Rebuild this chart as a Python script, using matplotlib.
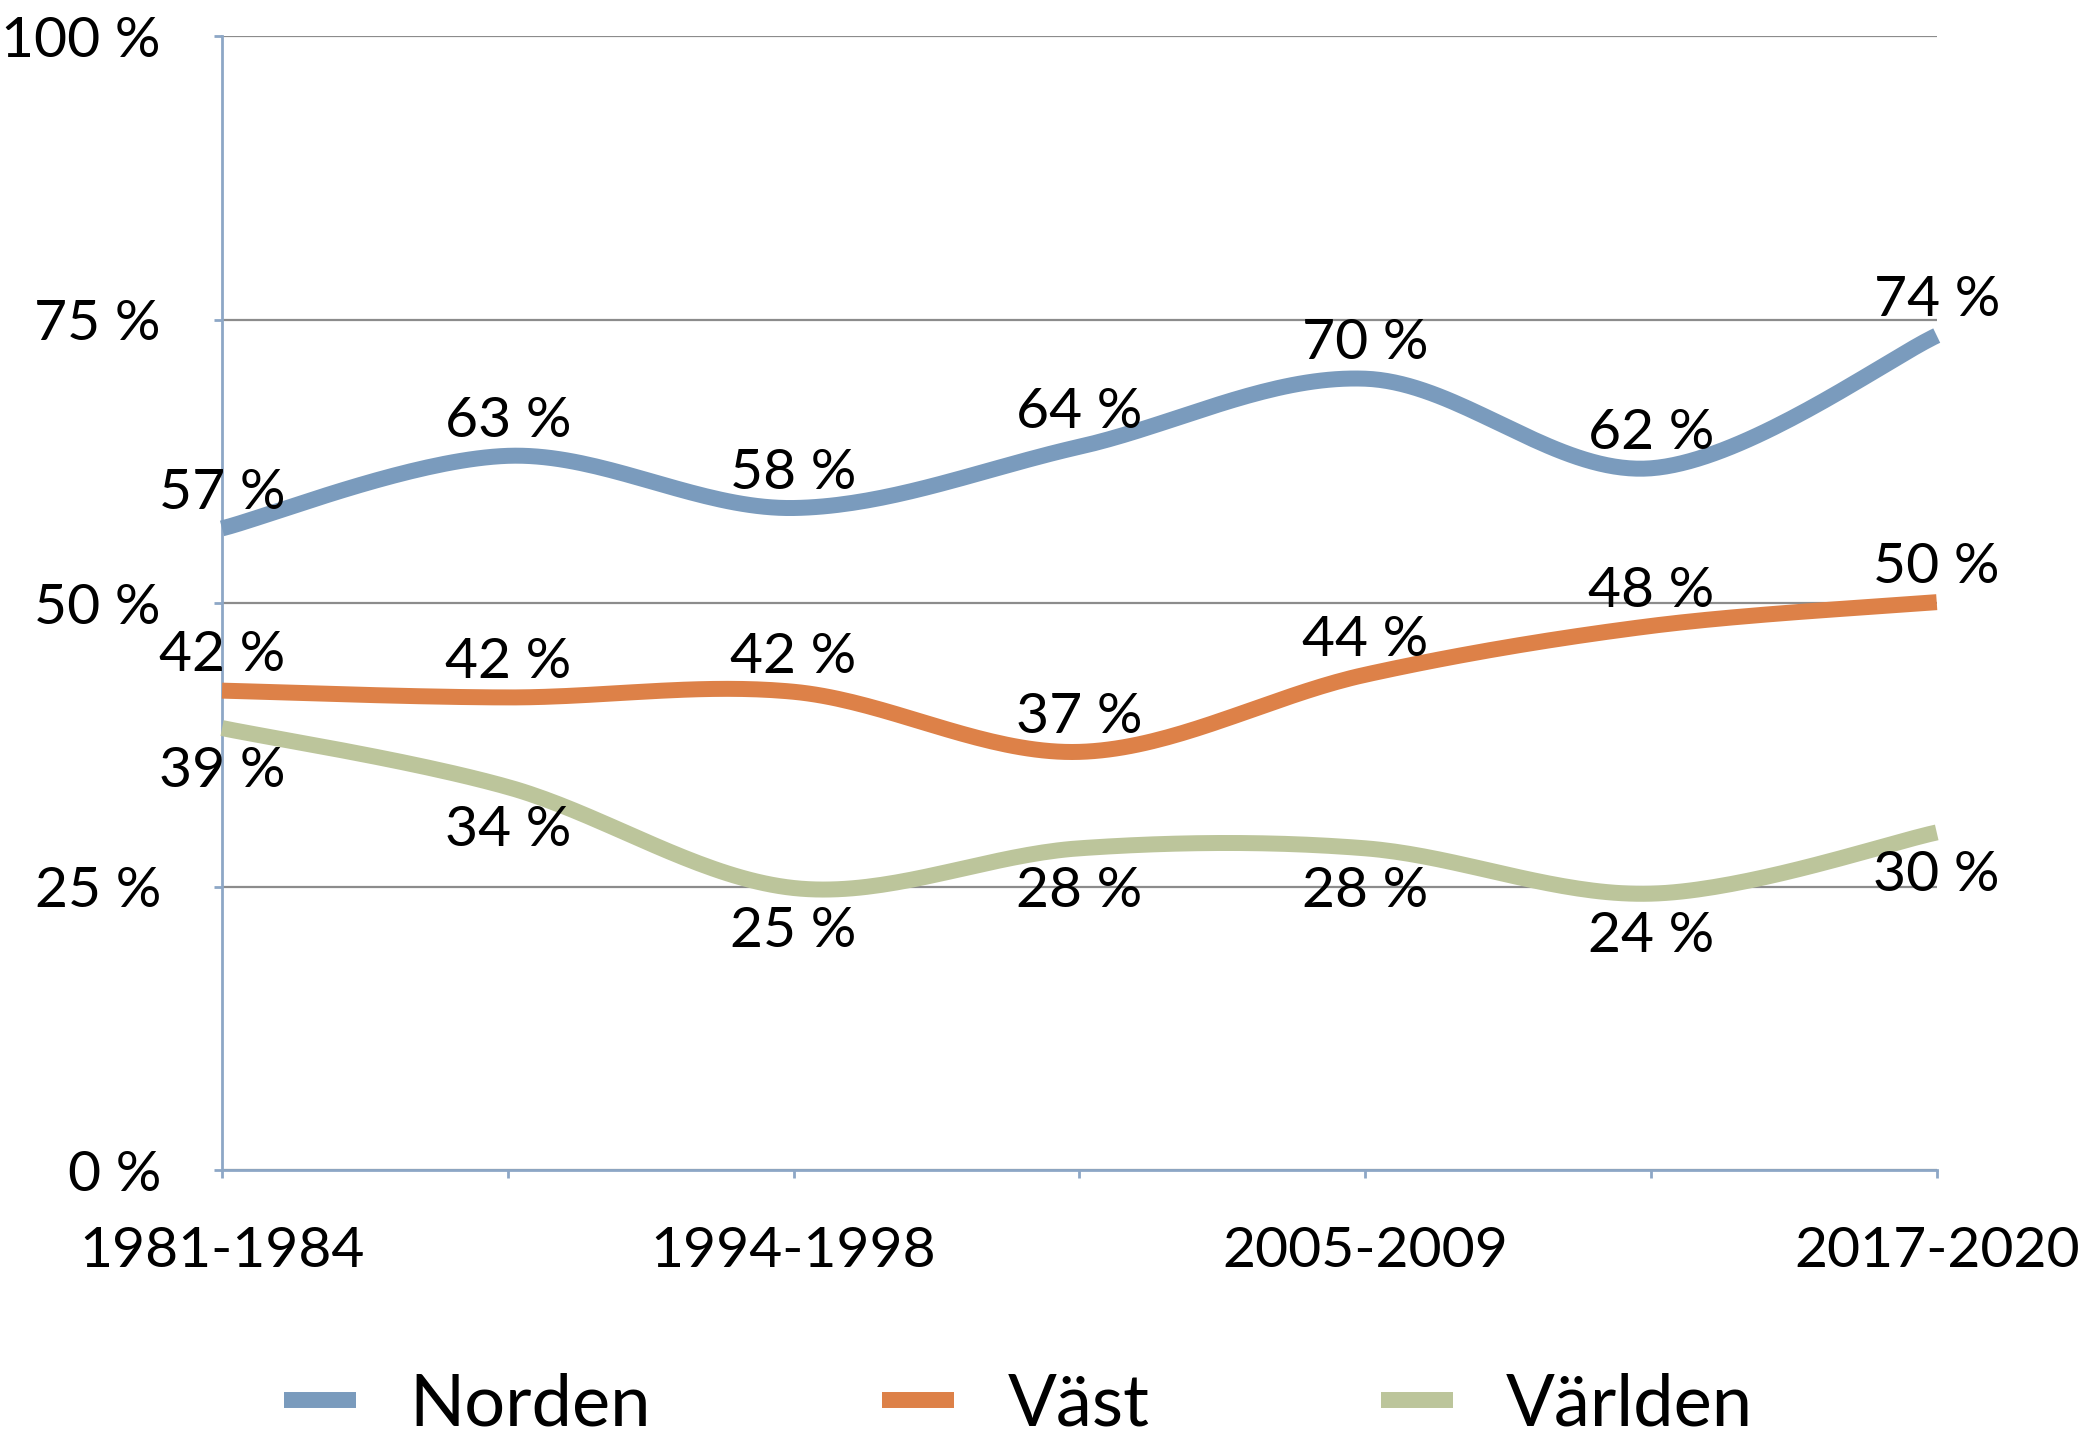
import matplotlib.pyplot as plt
import numpy as np

periods = ["1981-1984", "1989-1993", "1994-1998", "1999-2004",
           "2005-2009", "2010-2014", "2017-2020"]
shown_labels = ["1981-1984", "", "1994-1998", "", "2005-2009", "", "2017-2020"]

norden = [56.6, 63.0, 58.4, 63.8, 69.8, 61.9, 73.6]
vast = [42.3, 41.7, 42.2, 36.9, 43.7, 48.0, 50.1]
varlden = [39.0, 33.8, 24.9, 28.4, 28.4, 24.4, 29.8]

series_names = ["Norden", "Väst", "Världen"]
series_colors = ["#7A9BBD", "#DD8148", "#BCC59B"]

plt.rcParams['font.family'] = ['Lato', 'DejaVu Sans']


def smooth(xs, ys, n=40):
    """Excel-like smoothed line: cubic bezier through points, Catmull-Rom tangents."""
    pts = np.column_stack([xs, ys]).astype(float)
    p = np.vstack([pts[0], pts, pts[-1]])
    out = []
    t = np.linspace(0, 1, n)[:, None]
    for i in range(1, len(p) - 2):
        p0, p1, p2, p3 = p[i - 1], p[i], p[i + 1], p[i + 2]
        c1 = p1 + (p2 - p0) / 6.0
        c2 = p2 - (p3 - p1) / 6.0
        seg = ((1 - t) ** 3) * p1 + 3 * ((1 - t) ** 2) * t * c1 \
            + 3 * (1 - t) * t ** 2 * c2 + t ** 3 * p2
        out.append(seg if i == 1 else seg[1:])
    out = np.vstack(out)
    return out[:, 0], out[:, 1]


fig = plt.figure(figsize=(20.87, 14.45), dpi=100)
ax = fig.add_axes([0.1064, 0.190, 0.928 - 0.1064, 0.975 - 0.190])

x = np.arange(len(periods))
axis_col = "#8DA7C6"

ax.set_xlim(0, len(periods) - 1)
ax.set_ylim(0, 100)
ax.set_yticks([0, 25, 50, 75, 100])
ax.set_yticklabels(["0 %", "25 %", "50 %", "75 %", "100 %"])
ax.set_xticks(x)
ax.set_xticklabels(shown_labels)

ax.yaxis.grid(True, color="#8C8C8C", linewidth=1.6)
ax.set_axisbelow(True)
for s in ["top", "right"]:
    ax.spines[s].set_visible(False)
for s in ["left", "bottom"]:
    ax.spines[s].set_color(axis_col)
    ax.spines[s].set_linewidth(2.0)
ax.tick_params(axis="both", colors=axis_col, length=6, width=2,
               labelcolor="black", labelsize=41)
ax.tick_params(axis="x", pad=34)
ax.tick_params(axis="y", pad=38)

handles = []
for vals, name, col, off in zip([norden, vast, varlden], series_names,
                                series_colors, [25, 25, -31]):
    sx, sy = smooth(x, vals)
    h, = ax.plot(sx, sy, color=col, linewidth=11.5, solid_capstyle="butt",
                 clip_on=False, label=name, zorder=3)
    handles.append(h)
    for xi, v in zip(x, vals):
        ax.annotate(f"{v:.0f} %", (xi, v), xytext=(0, off), textcoords="offset points",
                    ha="center", va="center", fontsize=41, zorder=5)

fig.legend(handles=handles, loc="center", bbox_to_anchor=(0.488, 0.028),
           ncol=3, frameon=False, fontsize=52, handlelength=1.0,
           handletextpad=0.74, columnspacing=3.2, borderpad=0.1)

fig.savefig("out.png", dpi=100)
